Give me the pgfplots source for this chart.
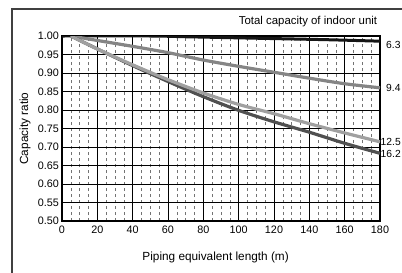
\documentclass[border=0pt]{standalone}
\usepackage{pgfplots}
\pgfplotsset{compat=1.18}
\usepackage{fontspec}
\setmainfont{Liberation Sans}
\definecolor{c63}{HTML}{151515}
\definecolor{c94}{HTML}{858585}
\definecolor{c125}{HTML}{A0A0A0}
\definecolor{c162}{HTML}{505050}
\begin{document}
\fontsize{11.8pt}{14pt}\selectfont
\begin{tikzpicture}[x=1pt,y=1pt]
\useasboundingbox (0,0) rectangle (402,-273);
\draw[line width=1.2pt, black!75] (12,-280) -- (12,-9) -- (410,-9);
\begin{axis}[
  at={(62pt,-221pt)}, anchor=south west,
  width=318pt, height=185pt, scale only axis,
  xmin=0, xmax=180, ymin=0.5, ymax=1.0,
  xtick={0,20,...,180},
  ytick={0.50,0.55,...,1.00},
  minor x tick num=3,
  major tick length=0pt, minor tick length=0pt,
  grid=both,
  major grid style={line width=0.8pt, black},
  minor x grid style={line width=0.6pt, black!55, dash pattern=on 3.5pt off 2.5pt},
  minor y grid style={draw=none},
  axis line style={line width=2pt, black},
  tick label style={font=\fontsize{10.8pt}{13pt}\selectfont},
  /pgf/number format/assume math mode=true,
  yticklabel style={/pgf/number format/fixed, /pgf/number format/fixed zerofill, /pgf/number format/precision=2, xshift=1pt},
  xticklabel style={yshift=-1pt},
  xlabel={Piping equivalent length (m)},
  ylabel={Capacity ratio},
  every axis x label/.style={at={(axis description cs:0.483,-0.195)}, anchor=center},
  every axis y label/.style={at={(axis description cs:-0.116,0.5)}, rotate=90, anchor=center},
  clip=true,
]
\addplot[c63, line width=3pt, smooth] coordinates {
 (0,1.0) (50,1.0) (70,0.998) (100,0.995) (120,0.993) (150,0.990) (180,0.986)};
\addplot[c94, line width=3.2pt, smooth] coordinates {
 (5,1.0) (20,0.988) (40,0.972) (60,0.955) (80,0.935) (100,0.918) (120,0.902) (140,0.886) (160,0.871) (180,0.860)};
\addplot[c162, line width=3.2pt, smooth] coordinates {
 (5,1.0) (20,0.965) (40,0.920) (60,0.877) (80,0.836) (100,0.799) (120,0.768) (140,0.740) (160,0.710) (180,0.683)};
\addplot[c125, line width=3.2pt, smooth] coordinates {
 (5,1.0) (20,0.965) (40,0.922) (60,0.882) (80,0.846) (100,0.815) (120,0.790) (140,0.763) (160,0.738) (180,0.714)};
\end{axis}
\node[font=\fontsize{11.4pt}{13pt}\selectfont] at (308,-22) {Total capacity of indoor unit};
\begin{scope}[every node/.style={anchor=west, inner sep=0pt, font=\fontsize{10.3pt}{12pt}\selectfont}]
\node at (386,-45) {6.3};
\node at (386,-88) {9.4};
\node at (380.5,-142) {12.5};
\node at (380.5,-154) {16.2};
\end{scope}
\end{tikzpicture}
\end{document}
